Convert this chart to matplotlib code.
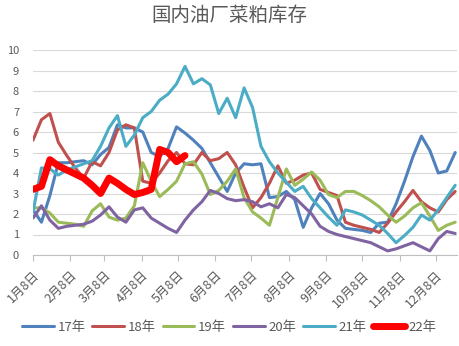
import numpy as np
import matplotlib
matplotlib.use("Agg")
import matplotlib.pyplot as plt
from datetime import date

plt.rcParams["font.family"] = ["Noto Sans CJK SC", "DejaVu Sans"]

# Weekly rapeseed-meal stocks (10k tonnes), one value per week starting Jan 8
s17 = [2.2, 1.6, 2.9, 4.5, 4.5, 4.55, 4.6, 4.4, 4.9, 5.25, 6.35, 6.2, 6.2, 6.0, 5.0,
       4.8, 5.2, 6.25, 5.95, 5.6, 5.2, 4.5, 3.8, 3.1, 4.0, 4.45, 4.4, 4.45, 2.8, 2.85,
       3.1, 2.7, 1.35, 2.3, 3.0, 2.5, 1.7, 1.3, 1.25, 1.2, 1.1, 1.55, 1.6, 2.5, 3.6,
       4.8, 5.8, 5.1, 4.0, 4.1, 5.0]
s18 = [5.6, 6.6, 6.9, 5.5, 4.85, 4.25, 3.75, 4.55, 4.35, 5.0, 6.1, 6.35, 6.2, 3.6, 3.5,
       4.0, 4.6, 5.0, 4.45, 4.4, 5.0, 4.6, 4.7, 5.0, 4.4, 3.3, 2.3, 2.8, 3.5, 4.35,
       3.5, 3.65, 3.9, 4.0, 3.2, 3.05, 2.9, 1.6, 1.45, 1.35, 1.25, 1.1, 1.55, 2.1, 2.6,
       3.15, 2.6, 2.3, 2.1, 2.7, 3.1]
s19 = [2.3, 2.3, 2.05, 1.6, 1.55, 1.5, 1.4, 2.15, 2.5, 1.85, 1.7, 1.8, 2.4, 4.5, 3.6,
       2.85, 3.2, 3.6, 4.45, 4.55, 3.95, 2.95, 3.15, 3.6, 4.2, 2.8, 2.1, 1.8, 1.45, 2.8,
       4.2, 3.4, 3.7, 4.05, 3.65, 2.95, 2.8, 3.1, 3.1, 2.9, 2.65, 2.35, 1.95, 1.6, 1.9,
       2.3, 2.55, 1.9, 1.2, 1.45, 1.6]
s20 = [1.8, 2.4, 1.7, 1.3, 1.4, 1.45, 1.5, 1.65, 1.95, 2.35, 1.85, 1.6, 2.2, 2.3, 1.8,
       1.55, 1.3, 1.1, 1.7, 2.2, 2.6, 3.15, 3.0, 2.75, 2.65, 2.7, 2.6, 2.35, 2.5, 2.3,
       2.95, 2.8, 2.4, 2.0, 1.4, 1.15, 1.0, 0.9, 0.8, 0.7, 0.6, 0.4, 0.2, 0.3, 0.45,
       0.6, 0.4, 0.2, 0.8, 1.15, 1.05]
s21 = [2.1, 4.25, 4.2, 3.9, 4.15, 4.3, 4.45, 4.6, 5.3, 6.2, 6.8, 5.3, 5.85, 6.7, 7.0,
       7.55, 7.85, 8.35, 9.2, 8.35, 8.6, 8.3, 6.9, 7.65, 6.7, 8.15, 7.2, 5.3, 4.55, 4.0,
       3.55, 3.1, 3.35, 2.75, 2.3, 1.85, 1.45, 2.2, 2.1, 1.95, 1.7, 1.45, 1.05, 0.6, 0.95,
       1.35, 1.95, 1.7, 2.2, 2.8, 3.4]
s22 = [3.2, 3.35, 4.65, 4.35, 4.15, 3.95, 3.75, 3.4, 3.0, 3.75, 3.5, 3.2, 2.95, 3.05,
       3.2, 5.15, 5.0, 4.55, 4.85]

series_names = ["17年", "18年", "19年", "20年", "21年", "22年"]
series_values = [s17, s18, s19, s20, s21, s22]
series_colors = ["#4F81BD", "#C0504D", "#9BBB59", "#8064A2", "#4BACC6", "#FF0000"]
series_widths = [2.2, 2.2, 2.2, 2.2, 2.2, 5.0]

month_labels = [f"{m}月8日" for m in range(1, 13)]
tick_days = [(date(2021, m, 8) - date(2021, 1, 8)).days for m in range(1, 13)]

W, H = 459, 346
fig = plt.figure(figsize=(W / 100, H / 100), dpi=100)
ax = fig.add_axes([33 / W, 1 - 255 / H, (457 - 33) / W, (255 - 50) / H])

lines = []
for name, vals, col, lw in zip(series_names, series_values, series_colors, series_widths):
    x = np.arange(len(vals)) * 7
    (ln,) = ax.plot(x, vals, color=col, lw=lw, label=name,
                    solid_joinstyle="round", solid_capstyle="round")
    lines.append(ln)

ax.set_xlim(0, 351.5)
ax.set_ylim(0, 10)
ax.set_yticks(range(0, 11))
ax.yaxis.grid(True, color="#D9D9D9", lw=0.8)
ax.set_axisbelow(True)
for side in ("left", "top", "right"):
    ax.spines[side].set_visible(False)
ax.spines["bottom"].set_color("#BFBFBF")
ax.spines["bottom"].set_linewidth(0.8)

ax.set_xticks(tick_days)
ax.set_xticklabels(month_labels, rotation=45, ha="right", va="top",
                   rotation_mode="anchor")
ax.tick_params(axis="x", length=4, width=0.8, color="#BFBFBF", pad=6,
               labelsize=9, labelcolor="#595959")
ax.tick_params(axis="y", length=0, pad=10, labelsize=8, labelcolor="#595959")

fig.text(0.5, 1 - 15 / H, "国内油厂菜粕库存", ha="center", va="center",
         fontsize=14, color="#595959")

fig.legend(lines, series_names, loc="center", bbox_to_anchor=(0.5, 1 - 327 / H),
           ncol=6, frameon=False, fontsize=9.5, handlelength=2.4,
           handletextpad=0.3, columnspacing=0.5, labelcolor="#595959")

fig.savefig("out.png", dpi=100)
